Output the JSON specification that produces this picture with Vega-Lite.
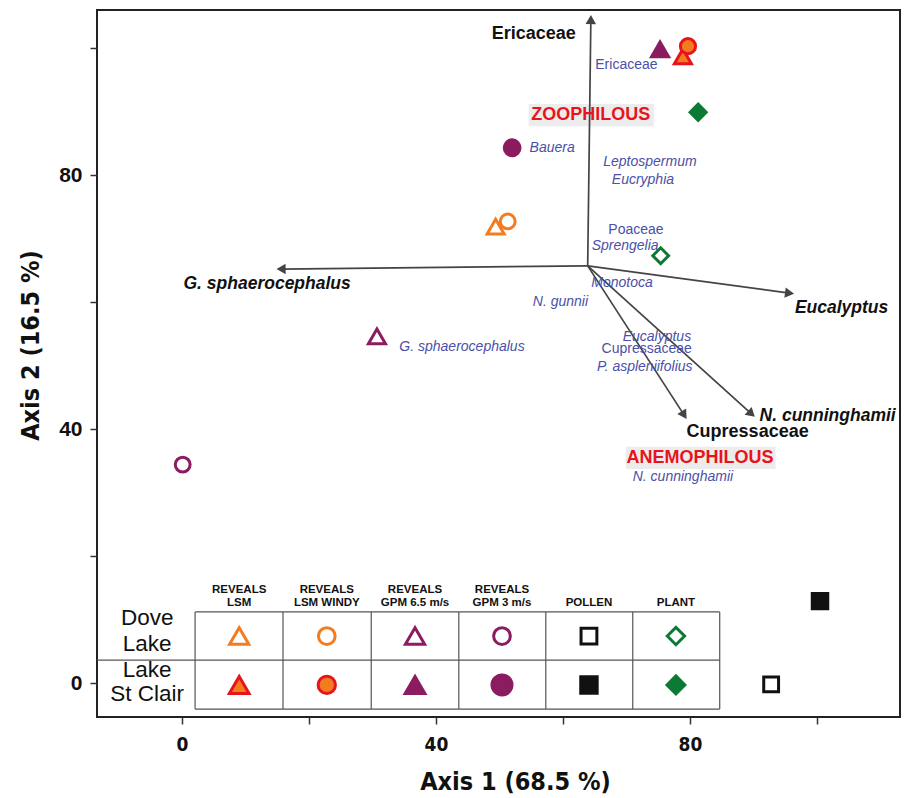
{
  "$schema": "https://vega.github.io/schema/vega-lite/v6.json",
  "width": 803,
  "height": 707,
  "autosize": {"type": "none"},
  "padding": {"left": 97, "top": 10, "right": 12, "bottom": 81},
  "background": "white",
  "datasets": {
    "points": [
      {"x": 78.9, "y": 98.7, "method": "LSM", "site": "Lake St Clair", "group": "plot"},
      {"x": 75.3, "y": 99.8, "method": "GPM 6.5", "site": "Lake St Clair", "group": "plot"},
      {"x": 79.7, "y": 100.3, "method": "LSM WINDY", "site": "Lake St Clair", "group": "plot"},
      {"x": 81.3, "y": 89.9, "method": "PLANT", "site": "Lake St Clair", "group": "plot"},
      {"x": 52.0, "y": 84.3, "method": "GPM 3", "site": "Lake St Clair", "group": "plot"},
      {"x": 49.4, "y": 71.9, "method": "LSM", "site": "Dove Lake", "group": "plot"},
      {"x": 51.3, "y": 72.7, "method": "LSM WINDY", "site": "Dove Lake", "group": "plot"},
      {"x": 75.4, "y": 67.3, "method": "PLANT", "site": "Dove Lake", "group": "plot"},
      {"x": 30.7, "y": 54.6, "method": "GPM 6.5", "site": "Dove Lake", "group": "plot"},
      {"x": 0.1, "y": 34.4, "method": "GPM 3", "site": "Dove Lake", "group": "plot"},
      {"x": 100.5, "y": 12.9, "method": "POLLEN", "site": "Lake St Clair", "group": "plot"},
      {"x": 92.8, "y": -0.2, "method": "POLLEN", "site": "Dove Lake", "group": "plot"},
      {"x": 9.0, "y": 7.4, "method": "LSM", "site": "Dove Lake", "group": "table"},
      {"x": 22.8, "y": 7.4, "method": "LSM WINDY", "site": "Dove Lake", "group": "table"},
      {"x": 36.7, "y": 7.4, "method": "GPM 6.5", "site": "Dove Lake", "group": "table"},
      {"x": 50.4, "y": 7.4, "method": "GPM 3", "site": "Dove Lake", "group": "table"},
      {"x": 64.1, "y": 7.4, "method": "POLLEN", "site": "Dove Lake", "group": "table"},
      {"x": 77.8, "y": 7.4, "method": "PLANT", "site": "Dove Lake", "group": "table"},
      {"x": 9.0, "y": -0.3, "method": "LSM", "site": "Lake St Clair", "group": "table"},
      {"x": 22.8, "y": -0.3, "method": "LSM WINDY", "site": "Lake St Clair", "group": "table"},
      {"x": 36.7, "y": -0.3, "method": "GPM 6.5", "site": "Lake St Clair", "group": "table"},
      {"x": 50.4, "y": -0.3, "method": "GPM 3", "site": "Lake St Clair", "group": "table"},
      {"x": 64.1, "y": -0.3, "method": "POLLEN", "site": "Lake St Clair", "group": "table"},
      {"x": 77.8, "y": -0.3, "method": "PLANT", "site": "Lake St Clair", "group": "table"}
    ],
    "arrows": [
      {"name": "Ericaceae", "x": 63.9, "y": 65.7, "x2": 64.4, "y2": 104.5},
      {"name": "G. sphaerocephalus", "x": 63.9, "y": 65.7, "x2": 15.6, "y2": 65.2},
      {"name": "Eucalyptus", "x": 63.9, "y": 65.7, "x2": 95.7, "y2": 61.4},
      {"name": "Cupressaceae", "x": 63.9, "y": 65.7, "x2": 79.1, "y2": 42.2},
      {"name": "N. cunninghamii", "x": 63.9, "y": 65.7, "x2": 89.7, "y2": 42.4}
    ],
    "boxes": [
      {"x": 54.6, "x2": 74.3, "y": 91.2, "y2": 87.7},
      {"x": 69.9, "x2": 93.5, "y": 37.2, "y2": 33.7}
    ],
    "tablelines": [
      {"x": 2.05, "x2": 84.7, "y": 11.2, "y2": 11.2},
      {"x": -13.4, "x2": 84.7, "y": 3.6, "y2": 3.6},
      {"x": 2.05, "x2": 84.7, "y": -4.1, "y2": -4.1},
      {"x": 2.05, "x2": 2.05, "y": -4.1, "y2": 11.2},
      {"x": 15.9, "x2": 15.9, "y": -4.1, "y2": 11.2},
      {"x": 29.8, "x2": 29.8, "y": -4.1, "y2": 11.2},
      {"x": 43.6, "x2": 43.6, "y": -4.1, "y2": 11.2},
      {"x": 57.3, "x2": 57.3, "y": -4.1, "y2": 11.2},
      {"x": 71.0, "x2": 71.0, "y": -4.1, "y2": 11.2},
      {"x": 84.7, "x2": 84.7, "y": -4.1, "y2": 11.2}
    ],
    "labels": [
      {"text": "Bauera", "x": 58.3, "y": 84.3, "kind": "blue-i"},
      {"text": "Leptospermum", "x": 73.7, "y": 82.0, "kind": "blue-i"},
      {"text": "Eucryphia", "x": 72.6, "y": 79.2, "kind": "blue-i"},
      {"text": "Sprengelia", "x": 69.8, "y": 68.9, "kind": "blue-i"},
      {"text": "Monotoca", "x": 69.3, "y": 63.0, "kind": "blue-i"},
      {"text": "N. gunnii", "x": 59.6, "y": 60.0, "kind": "blue-i"},
      {"text": "G. sphaerocephalus", "x": 44.1, "y": 52.9, "kind": "blue-i"},
      {"text": "Eucalyptus", "x": 74.8, "y": 54.5, "kind": "blue-i"},
      {"text": "P. aspleniifolius", "x": 72.9, "y": 49.7, "kind": "blue-i"},
      {"text": "N. cunninghamii", "x": 78.9, "y": 32.4, "kind": "blue-i"},
      {"text": "Ericaceae", "x": 70.0, "y": 97.3, "kind": "blue"},
      {"text": "Poaceae", "x": 71.5, "y": 71.4, "kind": "blue"},
      {"text": "Cupressaceae", "x": 73.2, "y": 52.6, "kind": "blue"},
      {"text": "G. sphaerocephalus", "x": 13.4, "y": 62.9, "kind": "black-bi"},
      {"text": "Eucalyptus", "x": 103.9, "y": 59.0, "kind": "black-bi"},
      {"text": "N. cunninghamii", "x": 101.7, "y": 42.0, "kind": "black-bi"},
      {"text": "Ericaceae", "x": 55.4, "y": 102.2, "kind": "black-b"},
      {"text": "Cupressaceae", "x": 89.1, "y": 39.6, "kind": "black-b"},
      {"text": "ZOOPHILOUS", "x": 64.4, "y": 89.5, "kind": "red"},
      {"text": "ANEMOPHILOUS", "x": 81.6, "y": 35.4, "kind": "red"},
      {"text": "REVEALS", "x": 9.0, "y": 14.6, "kind": "header"},
      {"text": "LSM", "x": 9.0, "y": 12.6, "kind": "header"},
      {"text": "REVEALS", "x": 22.8, "y": 14.6, "kind": "header"},
      {"text": "LSM WINDY", "x": 22.8, "y": 12.6, "kind": "header"},
      {"text": "REVEALS", "x": 36.7, "y": 14.6, "kind": "header"},
      {"text": "GPM 6.5 m/s", "x": 36.7, "y": 12.6, "kind": "header"},
      {"text": "REVEALS", "x": 50.4, "y": 14.6, "kind": "header"},
      {"text": "GPM 3 m/s", "x": 50.4, "y": 12.6, "kind": "header"},
      {"text": "POLLEN", "x": 64.1, "y": 12.6, "kind": "header"},
      {"text": "PLANT", "x": 77.8, "y": 12.6, "kind": "header"},
      {"text": "Dove", "x": -5.5, "y": 10.2, "kind": "row"},
      {"text": "Lake", "x": -5.5, "y": 6.2, "kind": "row"},
      {"text": "Lake", "x": -5.5, "y": 2.1, "kind": "row"},
      {"text": "St Clair", "x": -5.5, "y": -1.7, "kind": "row"}
    ]
  },
  "encoding": {
    "x": {
      "field": "x",
      "type": "quantitative",
      "scale": {"domain": [-13.4, 113.1], "nice": false, "zero": false},
      "axis": {
        "title": "Axis 1 (68.5 %)",
        "values": [0, 20, 40, 60, 80, 100],
        "labelExpr": "datum.value % 40 == 0 ? datum.label : ''",
        "labelFont": "DejaVu Sans Condensed, Liberation Sans, sans-serif",
        "labelFontSize": 19,
        "labelFontWeight": "bold",
        "labelPadding": 11,
        "titleFont": "DejaVu Sans Condensed, Liberation Sans, sans-serif",
        "titleFontSize": 25,
        "titleFontWeight": "bold",
        "titleX": 418,
        "titleY": 64,
        "titleBaseline": "middle",
        "titleAlign": "center"
      }
    },
    "y": {
      "field": "y",
      "type": "quantitative",
      "scale": {"domain": [-5.35, 106.0], "nice": false, "zero": false},
      "axis": {
        "title": "Axis 2 (16.5 %)",
        "values": [0, 20, 40, 60, 80, 100],
        "labelExpr": "datum.value % 40 == 0 ? datum.label : ''",
        "labelFont": "Liberation Sans",
        "labelFontSize": 21,
        "labelFontWeight": "bold",
        "labelPadding": 8,
        "titleFont": "DejaVu Sans Condensed, Liberation Sans, sans-serif",
        "titleFontSize": 25,
        "titleFontWeight": "bold",
        "titleX": -67,
        "titleY": 335,
        "titleAngle": -90,
        "titleBaseline": "middle",
        "titleAlign": "center"
      }
    }
  },
  "layer": [
    {
      "data": {"name": "boxes"},
      "mark": {"type": "rect", "color": "#ececec"},
      "encoding": {
        "x2": {"field": "x2"},
        "y2": {"field": "y2"}
      }
    },
    {
      "data": {"name": "arrows"},
      "mark": {"type": "rule", "color": "#444444", "strokeWidth": 1.7},
      "encoding": {
        "x2": {"field": "x2"},
        "y2": {"field": "y2"}
      }
    },
    {
      "data": {"name": "arrows"},
      "transform": [
        {"calculate": "atan2(datum.x2 - datum.x, datum.y2 - datum.y) * 180 / PI", "as": "ang"}
      ],
      "mark": {"type": "point", "shape": "triangle-up", "filled": true, "color": "#444444", "size": 110, "opacity": 1},
      "encoding": {
        "x": {"field": "x2", "type": "quantitative"},
        "y": {"field": "y2", "type": "quantitative"},
        "angle": {"field": "ang", "type": "quantitative", "scale": null}
      }
    },
    {
      "data": {"name": "tablelines"},
      "mark": {"type": "rule", "color": "#555555", "strokeWidth": 1.2},
      "encoding": {
        "x2": {"field": "x2"},
        "y2": {"field": "y2"}
      }
    },
    {
      "data": {"name": "points"},
      "transform": [
        {"calculate": "datum.method + '|' + datum.site + '|' + datum.group", "as": "style"}
      ],
      "mark": {"type": "point", "strokeWidth": 3, "opacity": 1, "fillOpacity": 1},
      "encoding": {
        "shape": {
          "field": "method",
          "type": "nominal",
          "scale": {
            "domain": ["LSM", "LSM WINDY", "GPM 6.5", "GPM 3", "POLLEN", "PLANT"],
            "range": ["triangle-up", "circle", "triangle-up", "circle", "square", "diamond"]
          },
          "legend": null
        },
        "size": {
          "field": "style",
          "type": "nominal",
          "scale": {
            "type": "ordinal",
            "domain": [
              "LSM|Dove Lake|plot", "LSM WINDY|Dove Lake|plot", "GPM 6.5|Dove Lake|plot", "GPM 3|Dove Lake|plot", "POLLEN|Dove Lake|plot", "PLANT|Dove Lake|plot",
              "LSM|Lake St Clair|plot", "LSM WINDY|Lake St Clair|plot", "GPM 6.5|Lake St Clair|plot", "GPM 3|Lake St Clair|plot", "POLLEN|Lake St Clair|plot", "PLANT|Lake St Clair|plot",
              "LSM|Dove Lake|table", "LSM WINDY|Dove Lake|table", "GPM 6.5|Dove Lake|table", "GPM 3|Dove Lake|table", "POLLEN|Dove Lake|table", "PLANT|Dove Lake|table",
              "LSM|Lake St Clair|table", "LSM WINDY|Lake St Clair|table", "GPM 6.5|Lake St Clair|table", "GPM 3|Lake St Clair|table", "POLLEN|Lake St Clair|table", "PLANT|Lake St Clair|table"
            ],
            "range": [
              290, 220, 290, 220, 220, 250,
              290, 230, 290, 250, 240, 260,
              370, 280, 370, 280, 250, 300,
              390, 300, 390, 400, 270, 320
            ]
          },
          "legend": null
        },
        "stroke": {
          "field": "style",
          "type": "nominal",
          "scale": {
            "domain": [
              "LSM|Dove Lake|plot", "LSM WINDY|Dove Lake|plot", "GPM 6.5|Dove Lake|plot", "GPM 3|Dove Lake|plot", "POLLEN|Dove Lake|plot", "PLANT|Dove Lake|plot",
              "LSM|Lake St Clair|plot", "LSM WINDY|Lake St Clair|plot", "GPM 6.5|Lake St Clair|plot", "GPM 3|Lake St Clair|plot", "POLLEN|Lake St Clair|plot", "PLANT|Lake St Clair|plot",
              "LSM|Dove Lake|table", "LSM WINDY|Dove Lake|table", "GPM 6.5|Dove Lake|table", "GPM 3|Dove Lake|table", "POLLEN|Dove Lake|table", "PLANT|Dove Lake|table",
              "LSM|Lake St Clair|table", "LSM WINDY|Lake St Clair|table", "GPM 6.5|Lake St Clair|table", "GPM 3|Lake St Clair|table", "POLLEN|Lake St Clair|table", "PLANT|Lake St Clair|table"
            ],
            "range": [
              "#f47c20", "#f47c20", "#8b1c60", "#8b1c60", "#111111", "#0c7a35",
              "#e8141c", "#e8141c", "#8b1c60", "#8b1c60", "#111111", "#0c7a35",
              "#f47c20", "#f47c20", "#8b1c60", "#8b1c60", "#111111", "#0c7a35",
              "#e8141c", "#e8141c", "#8b1c60", "#8b1c60", "#111111", "#0c7a35"
            ]
          },
          "legend": null
        },
        "fill": {
          "field": "style",
          "type": "nominal",
          "scale": {
            "domain": [
              "LSM|Dove Lake|plot", "LSM WINDY|Dove Lake|plot", "GPM 6.5|Dove Lake|plot", "GPM 3|Dove Lake|plot", "POLLEN|Dove Lake|plot", "PLANT|Dove Lake|plot",
              "LSM|Lake St Clair|plot", "LSM WINDY|Lake St Clair|plot", "GPM 6.5|Lake St Clair|plot", "GPM 3|Lake St Clair|plot", "POLLEN|Lake St Clair|plot", "PLANT|Lake St Clair|plot",
              "LSM|Dove Lake|table", "LSM WINDY|Dove Lake|table", "GPM 6.5|Dove Lake|table", "GPM 3|Dove Lake|table", "POLLEN|Dove Lake|table", "PLANT|Dove Lake|table",
              "LSM|Lake St Clair|table", "LSM WINDY|Lake St Clair|table", "GPM 6.5|Lake St Clair|table", "GPM 3|Lake St Clair|table", "POLLEN|Lake St Clair|table", "PLANT|Lake St Clair|table"
            ],
            "range": [
              "#ffffff", "#ffffff", "#ffffff", "#ffffff", "#ffffff", "#ffffff",
              "#f47c20", "#f47c20", "#8b1c60", "#8b1c60", "#111111", "#0c7a35",
              "#ffffff", "#ffffff", "#ffffff", "#ffffff", "#ffffff", "#ffffff",
              "#f47c20", "#f47c20", "#8b1c60", "#8b1c60", "#111111", "#0c7a35"
            ]
          },
          "legend": null
        }
      }
    },
    {
      "data": {"name": "labels"},
      "transform": [{"filter": "datum.kind == 'blue-i'"}],
      "mark": {"type": "text", "font": "Liberation Sans", "fontSize": 14, "fontStyle": "italic", "color": "#4b50a8"},
      "encoding": {"text": {"field": "text"}}
    },
    {
      "data": {"name": "labels"},
      "transform": [{"filter": "datum.kind == 'blue'"}],
      "mark": {"type": "text", "font": "Liberation Sans", "fontSize": 14, "color": "#4b50a8"},
      "encoding": {"text": {"field": "text"}}
    },
    {
      "data": {"name": "labels"},
      "transform": [{"filter": "datum.kind == 'black-bi'"}],
      "mark": {"type": "text", "font": "Liberation Sans", "fontSize": 17.5, "fontStyle": "italic", "fontWeight": "bold", "color": "#111111"},
      "encoding": {"text": {"field": "text"}}
    },
    {
      "data": {"name": "labels"},
      "transform": [{"filter": "datum.kind == 'black-b'"}],
      "mark": {"type": "text", "font": "Liberation Sans", "fontSize": 18, "fontWeight": "bold", "color": "#111111"},
      "encoding": {"text": {"field": "text"}}
    },
    {
      "data": {"name": "labels"},
      "transform": [{"filter": "datum.kind == 'red'"}],
      "mark": {"type": "text", "font": "Liberation Sans", "fontSize": 18, "fontWeight": "bold", "color": "#e8141c"},
      "encoding": {"text": {"field": "text"}}
    },
    {
      "data": {"name": "labels"},
      "transform": [{"filter": "datum.kind == 'header'"}],
      "mark": {"type": "text", "font": "Liberation Sans", "fontSize": 11.5, "fontWeight": "bold", "color": "#111111"},
      "encoding": {"text": {"field": "text"}}
    },
    {
      "data": {"name": "labels"},
      "transform": [{"filter": "datum.kind == 'row'"}],
      "mark": {"type": "text", "font": "Liberation Sans", "fontSize": 22.5, "color": "#111111"},
      "encoding": {"text": {"field": "text"}}
    }
  ],
  "config": {
    "view": {"stroke": "#222222", "strokeWidth": 2},
    "axis": {
      "domain": false,
      "grid": false,
      "tickColor": "#333333",
      "tickWidth": 1.5,
      "tickSize": 7,
      "labelColor": "#111111",
      "titleColor": "#111111"
    }
  }
}
